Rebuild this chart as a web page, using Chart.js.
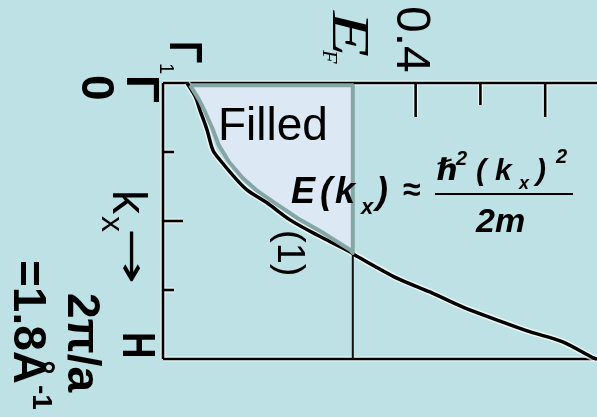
<!DOCTYPE html>
<html>
<head>
<meta charset="utf-8">
<script src="https://cdn.jsdelivr.net/npm/chart.js@4.4.0/dist/chart.umd.min.js"></script>
<style>
  html, body { margin: 0; padding: 0; background: #bde1e4; }
  #bandChart { display: block; }
</style>
</head>
<body>
<canvas id="bandChart" width="597" height="417"></canvas>
<script>
// Energy (Ry) runs across, k_x (in units of 2pi/a) runs down
var bandEnergy = [0.047, 0.060, 0.067, 0.078, 0.087, 0.098, 0.124, 0.140, 0.171, 0.206, 0.248, 0.299, 0.306, 0.371, 0.422, 0.473, 0.526, 0.577, 0.627, 0.674, 0.680];
var bandK      = [0.000, 0.050, 0.098, 0.170, 0.243, 0.279, 0.351, 0.388, 0.435, 0.496, 0.551, 0.612, 0.623, 0.707, 0.757, 0.812, 0.859, 0.902, 0.938, 0.996, 1.000];

// outline of the occupied states, closed back on itself
var filledEnergy = [0.052, 0.066, 0.075, 0.086, 0.096, 0.112, 0.133, 0.154, 0.183, 0.217, 0.255, 0.299, 0.303, 0.303, 0.052];
var filledK      = [0.008, 0.062, 0.105, 0.163, 0.225, 0.286, 0.344, 0.388, 0.435, 0.489, 0.540, 0.605, 0.616, 0.008, 0.008];

var fermiEnergy = 0.303;
var energyTicks = [0.4, 0.5, 0.6];
var energyTickLabel = '0.4';
var kTicks = [0.25, 0.5, 0.75];

var bgColor = '#bde1e4';
var fillColor = '#dce8f4';
var edgeColor = '#86a6a5';

function toPoints(xs, ys) {
  return xs.map(function (x, i) { return { x: x, y: ys[i] }; });
}

// draws text turned a quarter turn clockwise, baseline on the left
function rotText(c, str, x, y, font, stretch) {
  c.save();
  c.translate(x, y);
  c.rotate(Math.PI / 2);
  c.scale(stretch || 1, 1);
  c.font = font;
  c.fillText(str, 0, 0);
  var w = c.measureText(str).width * (stretch || 1);
  c.restore();
  return w;
}

var backgroundPlugin = {
  id: 'background',
  beforeDraw: function (chart) {
    var c = chart.ctx;
    c.save();
    c.fillStyle = bgColor;
    c.fillRect(0, 0, chart.width, chart.height);
    c.restore();
  }
};

var framePlugin = {
  id: 'frame',
  beforeDatasetsDraw: function (chart) {
    var c = chart.ctx;
    var xs = chart.scales.x, ys = chart.scales.y;
    var left = xs.getPixelForValue(xs.min), right = xs.getPixelForValue(xs.max);
    var top = ys.getPixelForValue(0), bottom = ys.getPixelForValue(1);
    var segs = [
      [left, top, right, top],
      [left, top, left, bottom],
      [left, bottom, right, bottom]
    ];
    energyTicks.forEach(function (e, i) {
      var px = xs.getPixelForValue(e);
      segs.push([px, top, px, top + (i === 1 ? 22 : 34)]);
    });
    kTicks.forEach(function (k, i) {
      var py = ys.getPixelForValue(k);
      segs.push([left, py, left + (i === 1 ? 20 : 11), py]);
    });
    c.save();
    c.lineCap = 'butt';
    [['rgba(255,255,255,0.7)', 5], ['#000', 2.6]].forEach(function (st) {
      c.strokeStyle = st[0];
      c.lineWidth = st[1];
      segs.forEach(function (s) {
        c.beginPath();
        c.moveTo(s[0], s[1]);
        c.lineTo(s[2], s[3]);
        c.stroke();
      });
    });
    c.restore();
  }
};

var labelPlugin = {
  id: 'labels',
  afterDraw: function (chart) {
    var c = chart.ctx;
    var sans = '"Liberation Sans", Arial, sans-serif';
    c.save();
    c.fillStyle = '#000';
    c.textBaseline = 'alphabetic';
    c.textAlign = 'left';

    // scanned axis labels
    rotText(c, '0', 82, 75, 'bold 46px ' + sans);
    rotText(c, 'Γ', 127, 75, 'bold 46px ' + sans);
    rotText(c, 'Γ', 170, 41, 'bold 46px ' + sans, 0.8);
    rotText(c, '1', 160, 63, '20px ' + sans);
    rotText(c, 'H', 123, 332, 'bold 46px ' + sans, 0.8);
    rotText(c, 'E', 333, 11, 'italic 52px "Liberation Serif", serif', 1.45);
    rotText(c, 'F', 323, 50, 'italic 22px "Liberation Serif", serif');
    rotText(c, energyTickLabel, 397, 6, '48px ' + sans);
    rotText(c, '(1)', 278, 230, '38px ' + sans);

    // k axis caption
    rotText(c, 'k', 113, 190, '48px ' + sans);
    rotText(c, 'x', 102, 216, '32px ' + sans);
    rotText(c, '→', 119, 228, '40px "DejaVu Sans", sans-serif', 1.7);
    rotText(c, '2π/a', 68, 293, 'bold 46px ' + sans);
    var w = rotText(c, '=1.8Å', 14, 260, 'bold 46px ' + sans);
    rotText(c, '-1', 33, 261 + w, 'bold 28px ' + sans);

    // annotation
    c.font = '46px ' + sans;
    c.fillText('Filled', 218, 140);

    var bi = 'bold italic ';
    c.font = bi + '36px ' + sans;
    c.fillText('E', 291, 203);
    c.fillText('(', 320, 203);
    c.fillText('k', 335, 203);
    c.fillText(')', 376, 203);
    c.font = bi + '22px ' + sans;
    c.fillText('x', 361, 214);
    c.font = 'bold 32px ' + sans;
    c.fillText('≈', 403, 200);

    c.font = bi + '30px "Liberation Sans", "DejaVu Sans", sans-serif';
    c.fillText('ℏ', 437, 180);
    c.font = bi + '30px ' + sans;
    c.fillText('(', 476, 180);
    c.fillText('k', 495, 180);
    c.fillText(')', 536, 180);
    c.font = bi + '20px ' + sans;
    c.fillText('2', 456, 165);
    c.fillText('2', 556, 163);
    c.font = bi + '18px ' + sans;
    c.fillText('x', 519, 189);
    c.fillRect(435, 193, 138, 2);
    c.font = bi + '34px ' + sans;
    c.fillText('2m', 476, 232);
    c.restore();
  }
};

var ctx = document.getElementById('bandChart').getContext('2d');
new Chart(ctx, {
  type: 'scatter',
  data: {
    datasets: [
      {
        label: 'Filled',
        data: toPoints(filledEnergy, filledK),
        showLine: true,
        fill: 'shape',
        backgroundColor: fillColor,
        borderColor: edgeColor,
        borderWidth: 4,
        borderJoinStyle: 'round',
        pointRadius: 0,
        tension: 0,
        clip: false,
        order: 0
      },
      {
        label: 'E(k)',
        data: toPoints(bandEnergy, bandK),
        showLine: true,
        borderColor: '#000',
        borderWidth: 3.5,
        pointRadius: 0,
        tension: 0.3,
        clip: false,
        order: 1
      },
      {
        label: 'E_F',
        data: [{ x: fermiEnergy, y: 0 }, { x: fermiEnergy, y: 1 }],
        showLine: true,
        borderColor: '#111',
        borderWidth: 2,
        pointRadius: 0,
        clip: false,
        order: 2
      },
      {
        label: 'halo',
        data: toPoints(bandEnergy, bandK),
        showLine: true,
        borderColor: 'rgba(255,255,255,0.7)',
        borderWidth: 6.5,
        pointRadius: 0,
        tension: 0.3,
        clip: false,
        order: 3
      }
    ]
  },
  options: {
    responsive: false,
    animation: false,
    devicePixelRatio: 1,
    events: [],
    layout: { padding: { left: 163, top: 83, right: 0, bottom: 58 } },
    plugins: {
      legend: { display: false },
      tooltip: { enabled: false }
    },
    scales: {
      x: { type: 'linear', min: 0.01, max: 0.68, display: false },
      y: { type: 'linear', min: 0, max: 1, reverse: true, display: false }
    }
  },
  plugins: [backgroundPlugin, framePlugin, labelPlugin]
});
</script>
</body>
</html>
